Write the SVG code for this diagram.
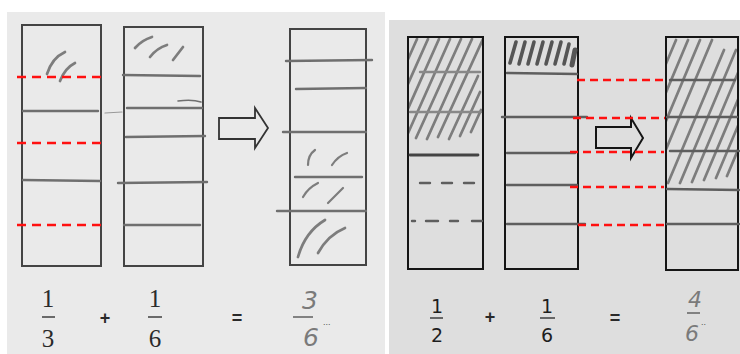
<svg xmlns="http://www.w3.org/2000/svg" width="740" height="354" viewBox="0 0 740 354">
<defs>
<style>
.bgL{fill:#eaeaea}
.bgR{fill:#dedede}
.boxL{fill:none;stroke:#444;stroke-width:2}
.boxR{fill:none;stroke:#151515;stroke-width:2}
.pen{stroke:#6f6f6f;stroke-width:2.4;stroke-linecap:round;fill:none}
.penR{stroke:#5e5e5e;stroke-width:2.4;stroke-linecap:round;fill:none}
.hatch{stroke:#7d7d7d;stroke-width:2.7;stroke-linecap:round;fill:none}
.hatchD{stroke:#555;stroke-width:3.6;stroke-linecap:round;fill:none}
.red{stroke:#ff1010;stroke-width:2.5;fill:none}
.redL{stroke-dasharray:9 6}
.redR{stroke-dasharray:8 5}
.arrow{fill:none;stroke:#333;stroke-width:1.8;stroke-linejoin:miter}
.serif{font-family:"Liberation Serif","Times New Roman",serif;font-size:25px;fill:#2a2a2a;text-anchor:middle}
.sans{font-family:"DejaVu Sans","Liberation Sans",sans-serif;font-size:19px;fill:#1e1e1e;text-anchor:middle}
.hand{font-family:"DejaVu Sans","Liberation Sans",sans-serif;font-style:italic;fill:#7a7a7a;text-anchor:middle}
.op{font-family:"Liberation Sans",Arial,sans-serif;font-weight:bold;font-size:18px;fill:#2a2a2a;text-anchor:middle}
.dots{font-family:"Liberation Sans",Arial,sans-serif;font-size:9px;fill:#555;text-anchor:start}
.bar{stroke:#333;stroke-width:1.4}
.hbar{stroke:#777;stroke-width:1.8}
</style>
<clipPath id="clipA"><rect x="409" y="38" width="73" height="103"/></clipPath>
<clipPath id="clipC"><rect x="667" y="38" width="70" height="148"/></clipPath>
</defs>

<rect width="740" height="354" fill="#ffffff"/>
<rect class="bgL" x="7" y="12" width="378" height="342"/>
<rect class="bgR" x="389" y="20" width="351" height="334"/>

<!-- LEFT PANEL -->
<g id="bar-third">
<rect class="boxL" x="22" y="25" width="79" height="241"/>
<line class="pen" x1="23" y1="111" x2="98" y2="111"/>
<line class="pen" x1="105" y1="113" x2="122" y2="112" style="stroke-width:1.2;stroke:#999"/>
<line class="pen" x1="23" y1="180" x2="100" y2="181"/>
<path class="hatch" d="M47 74 Q52 58 65 52"/>
<path class="hatch" d="M60 81 Q65 68 75 63"/>
</g>

<g id="bar-sixth-left">
<rect class="boxL" x="124" y="27" width="79" height="239"/>
<line class="pen" x1="123" y1="75" x2="200" y2="76"/>
<line class="pen" x1="127" y1="108" x2="202" y2="108"/>
<path class="pen" d="M178 101 Q192 99 201 102" style="stroke-width:1.6"/>
<line class="pen" x1="126" y1="137" x2="205" y2="136"/>
<line class="pen" x1="118" y1="183" x2="207" y2="182"/>
<line class="pen" x1="124" y1="225" x2="200" y2="225"/>
<path class="hatch" d="M135 48 Q142 40 152 37"/>
<path class="hatch" d="M150 57 Q157 48 167 45"/>
<path class="hatch" d="M173 60 L183 47"/>
</g>

<g id="arrow-left">
<polygon class="arrow" points="219,118 255,118 255,108 268,128 255,148 255,139 219,139"/>
</g>

<g id="bar-result-left">
<rect class="boxL" x="290" y="29" width="76" height="236"/>
<line class="pen" x1="286" y1="61" x2="372" y2="60"/>
<line class="pen" x1="296" y1="89" x2="366" y2="88"/>
<line class="pen" x1="283" y1="132" x2="366" y2="132"/>
<line class="pen" x1="295" y1="177" x2="362" y2="177"/>
<line class="pen" x1="277" y1="211" x2="366" y2="211"/>
<path class="hatch" d="M308 165 Q308 155 315 150" style="stroke-width:2.2"/>
<path class="hatch" d="M332 165 Q338 156 347 153" style="stroke-width:2.2"/>
<path class="hatch" d="M303 197 Q308 188 318 183" style="stroke-width:2.2"/>
<path class="hatch" d="M328 203 L343 188" style="stroke-width:2.2"/>
<path class="hatch" d="M298 257 Q305 232 325 220"/>
<path class="hatch" d="M318 253 Q328 235 345 228"/>
</g>

<g id="connectors-left">
<line class="red redL" x1="17" y1="77" x2="107" y2="77"/>
<line class="red redL" x1="17" y1="143" x2="107" y2="143"/>
<line class="red redL" x1="17" y1="225" x2="107" y2="225"/>
</g>

<g id="equation-left">
<text class="serif" x="48" y="307">1</text>
<line class="bar" x1="42" y1="317" x2="55" y2="317"/>
<text class="serif" x="48" y="347">3</text>
<text class="op" x="105" y="324">+</text>
<text class="serif" x="155" y="307">1</text>
<line class="bar" x1="148" y1="317" x2="162" y2="317"/>
<text class="serif" x="155" y="347">6</text>
<text class="op" x="237" y="324">=</text>
<text class="hand" x="310" y="309" font-size="25">3</text>
<line class="hbar" x1="293" y1="317" x2="313" y2="317"/>
<text class="hand" x="311" y="346" font-size="25">6</text>
<text class="dots" x="323" y="325">...</text>
</g>

<!-- RIGHT PANEL -->
<g id="bar-half">
<g clip-path="url(#clipA)">
<line class="hatch" x1="372" y1="140" x2="417" y2="39"/>
<line class="hatch" x1="383" y1="140" x2="428" y2="39"/>
<line class="hatch" x1="394" y1="140" x2="439" y2="39"/>
<line class="hatch" x1="405" y1="140" x2="450" y2="39"/>
<line class="hatch" x1="416" y1="138" x2="461" y2="39"/>
<line class="hatch" x1="427" y1="139" x2="472" y2="39"/>
<line class="hatch" x1="438" y1="137" x2="483" y2="39"/>
<line class="hatch" x1="449" y1="139" x2="478" y2="76"/>
<line class="hatch" x1="460" y1="136" x2="480" y2="92"/>
<line class="hatch" x1="471" y1="132" x2="481" y2="110"/>
</g>
<rect class="boxR" x="408" y="37" width="75" height="232"/>
<line class="penR" x1="420" y1="72" x2="480" y2="72" style="stroke:#888"/>
<line class="penR" x1="410" y1="112" x2="481" y2="112" style="stroke:#888"/>
<line class="penR" x1="410" y1="155" x2="478" y2="155" style="stroke:#444;stroke-width:2.8"/>
<line class="penR" x1="420" y1="183" x2="480" y2="183" style="stroke-dasharray:10 12"/>
<line class="penR" x1="412" y1="221" x2="482" y2="221" style="stroke-dasharray:3 11 12 12 8 14 10"/>
</g>

<g id="bar-sixth-right">
<rect class="boxR" x="505" y="37" width="73" height="232"/>
<line class="hatchD" x1="510" y1="63" x2="516" y2="42"/>
<line class="hatchD" x1="519" y1="64" x2="525" y2="42"/>
<line class="hatchD" x1="528" y1="64" x2="534" y2="42"/>
<line class="hatchD" x1="537" y1="64" x2="543" y2="42"/>
<line class="hatchD" x1="546" y1="64" x2="552" y2="42"/>
<line class="hatchD" x1="555" y1="64" x2="561" y2="42"/>
<line class="hatchD" x1="564" y1="64" x2="569" y2="44"/>
<line class="hatchD" x1="572" y1="65" x2="575" y2="50" style="stroke-width:5"/>
<line class="penR" x1="507" y1="73" x2="577" y2="74"/>
<line class="penR" x1="502" y1="117" x2="587" y2="117"/>
<line class="penR" x1="507" y1="153" x2="575" y2="153"/>
<line class="penR" x1="507" y1="185" x2="577" y2="185"/>
<line class="penR" x1="507" y1="224" x2="585" y2="224"/>
</g>

<g id="arrow-right">
<polygon class="arrow" points="596,127 631,127 631,118 643,138 631,158 631,148 596,148" style="stroke:#151515;stroke-width:2"/>
</g>

<g id="bar-result-right">
<g clip-path="url(#clipC)">
<line class="hatch" x1="615" y1="185" x2="676" y2="40"/>
<line class="hatch" x1="627" y1="185" x2="688" y2="40"/>
<line class="hatch" x1="639" y1="185" x2="700" y2="40"/>
<line class="hatch" x1="651" y1="185" x2="712" y2="40"/>
<line class="hatch" x1="668" y1="183" x2="724" y2="50"/>
<line class="hatch" x1="680" y1="183" x2="736" y2="50"/>
<line class="hatch" x1="692" y1="182" x2="740" y2="68"/>
<line class="hatch" x1="704" y1="180" x2="740" y2="95"/>
<line class="hatch" x1="716" y1="178" x2="740" y2="121"/>
<line class="hatch" x1="727" y1="176" x2="740" y2="145"/>
</g>
<rect class="boxR" x="666" y="37" width="72" height="233"/>
<line class="penR" x1="670" y1="80" x2="735" y2="80"/>
<line class="penR" x1="667" y1="117" x2="737" y2="117"/>
<line class="penR" x1="670" y1="151" x2="739" y2="151"/>
<line class="penR" x1="667" y1="189" x2="739" y2="190"/>
<line class="penR" x1="667" y1="224" x2="739" y2="224"/>
</g>

<g id="connectors-right">
<line class="red redR" x1="577" y1="80" x2="667" y2="80"/>
<line class="red redR" x1="573" y1="118" x2="665" y2="118"/>
<line class="red redR" x1="570" y1="152" x2="664" y2="152"/>
<line class="red redR" x1="570" y1="187" x2="664" y2="187"/>
<line class="red redR" x1="578" y1="225" x2="664" y2="225"/>
</g>

<g id="equation-right">
<text class="sans" x="437" y="313">1</text>
<line class="bar" x1="430" y1="318" x2="443" y2="318"/>
<text class="sans" x="437" y="342">2</text>
<text class="op" x="490" y="323">+</text>
<text class="sans" x="547" y="313">1</text>
<line class="bar" x1="540" y1="318" x2="555" y2="318"/>
<text class="sans" x="547" y="342">6</text>
<text class="op" x="615" y="324">=</text>
<text class="hand" x="695" y="307" font-size="22">4</text>
<line class="hbar" x1="687" y1="313" x2="700" y2="313"/>
<text class="hand" x="692" y="341" font-size="22">6</text>
<text class="dots" x="701" y="325">..</text>
</g>
</svg>
